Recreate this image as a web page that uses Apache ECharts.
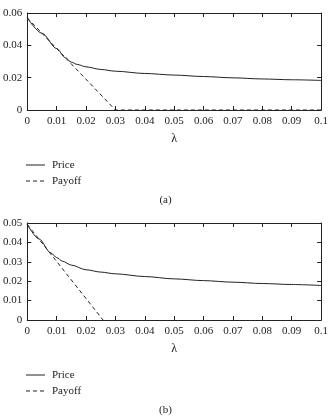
<!DOCTYPE html>
<html>
<head>
<meta charset="utf-8">
<script src="https://cdn.jsdelivr.net/npm/echarts@6/dist/echarts.min.js"></script>
<style>
  html, body { margin: 0; padding: 0; background: #fff; }
  #chart { width: 331px; height: 420px; }
</style>
</head>
<body>
<div id="chart"></div>
<script>
// panel (a)
const priceA = [[0, 0.057], [0.005, 0.0475], [0.01, 0.038], [0.013, 0.0323], [0.015, 0.0296],
  [0.017, 0.0282], [0.02, 0.0267], [0.025, 0.0251], [0.03, 0.024], [0.04, 0.0226],
  [0.05, 0.0216], [0.06, 0.0207], [0.07, 0.0199], [0.08, 0.0192], [0.09, 0.0187], [0.1, 0.0183]];
const payoffA = [[0, 0.057], [0.03, 0], [0.1, 0]];

// panel (b)
const priceB = [[0, 0.0493], [0.004, 0.0418], [0.008, 0.0346], [0.01, 0.0322], [0.012, 0.0303],
  [0.015, 0.0283], [0.02, 0.0259], [0.025, 0.0247], [0.03, 0.0238], [0.04, 0.0224],
  [0.05, 0.0212], [0.06, 0.0203], [0.07, 0.0195], [0.08, 0.0188], [0.09, 0.0183], [0.1, 0.0178]];
const payoffB = [[0, 0.0493], [0.0258, 0]];

const xTicks = { min: 0, max: 0.1, interval: 0.01 };
const yTicksA = { min: 0, max: 0.06, interval: 0.02 };
const yTicksB = { min: 0, max: 0.05, interval: 0.01 };

const font = '"Liberation Serif", "DejaVu Serif", serif';
const ink = '#222';

const chart = echarts.init(document.getElementById('chart'));

function xAxis(gridIndex, mirror) {
  return {
    type: 'value', gridIndex: gridIndex,
    min: xTicks.min, max: xTicks.max, interval: xTicks.interval,
    position: mirror ? 'top' : 'bottom',
    name: mirror ? '' : 'λ', nameLocation: 'middle', nameGap: 23,
    nameTextStyle: { fontFamily: font, fontSize: 12, color: ink },
    axisLine: { onZero: false, lineStyle: { color: ink, width: 1 } },
    axisTick: { inside: true, length: 4, lineStyle: { color: ink } },
    axisLabel: { show: !mirror, fontFamily: font, fontSize: 11, color: ink, margin: 6 },
    splitLine: { show: false }
  };
}

function yAxis(gridIndex, ticks, mirror) {
  return {
    type: 'value', gridIndex: gridIndex,
    min: ticks.min, max: ticks.max, interval: ticks.interval,
    position: mirror ? 'right' : 'left',
    axisLine: { show: true, onZero: false, lineStyle: { color: ink, width: 1 } },
    axisTick: { show: true, inside: true, length: 4, lineStyle: { color: ink } },
    axisLabel: { show: !mirror, fontFamily: font, fontSize: 11, color: ink, margin: 5 },
    splitLine: { show: false }
  };
}

function line(name, data, xi, yi, dashed) {
  return {
    name: name, type: 'line', data: data, xAxisIndex: xi, yAxisIndex: yi,
    symbol: 'none', smooth: dashed ? false : 0.3, smoothMonotone: 'x', animation: false,
    lineStyle: { color: ink, width: 1, type: dashed ? [4, 3] : 'solid' },
    itemStyle: { color: ink }
  };
}

function legendItems(yPrice, yPayoff) {
  return [
    { type: 'line', shape: { x1: 26, y1: yPrice, x2: 45, y2: yPrice }, style: { stroke: ink, lineWidth: 1 } },
    { type: 'text', x: 52, y: yPrice, style: { text: 'Price', font: '11px ' + font, fill: ink, textVerticalAlign: 'middle' } },
    { type: 'line', shape: { x1: 26, y1: yPayoff, x2: 45, y2: yPayoff }, style: { stroke: ink, lineWidth: 1, lineDash: [4, 3] } },
    { type: 'text', x: 52, y: yPayoff, style: { text: 'Payoff', font: '11px ' + font, fill: ink, textVerticalAlign: 'middle' } }
  ];
}

function caption(text, y) {
  return { type: 'text', x: 165.5, y: y, style: { text: text, font: '11px ' + font, fill: ink, textAlign: 'center', textVerticalAlign: 'middle' } };
}

const option = {
  animation: false,
  grid: [
    { left: 26, right: 8, top: 13, height: 97 },
    { left: 26, right: 8, top: 223, height: 97 }
  ],
  xAxis: [xAxis(0, false), xAxis(0, true), xAxis(1, false), xAxis(1, true)],
  yAxis: [yAxis(0, yTicksA, false), yAxis(0, yTicksA, true), yAxis(1, yTicksB, false), yAxis(1, yTicksB, true)],
  graphic: legendItems(165, 181).concat(legendItems(375, 391), [caption('(a)', 200), caption('(b)', 410)]),
  series: [
    line('Price', priceA, 0, 0, false),
    line('Payoff', payoffA, 0, 0, true),
    line('Price', priceB, 2, 2, false),
    line('Payoff', payoffB, 2, 2, true)
  ]
};

chart.setOption(option);
</script>
</body>
</html>
